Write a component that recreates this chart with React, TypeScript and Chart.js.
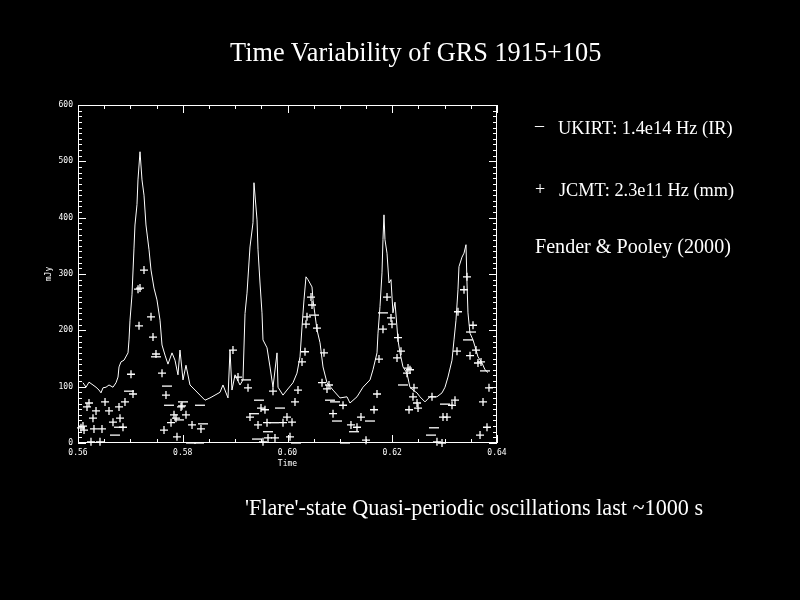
import React, { useEffect, useRef } from "react";
import { Chart, registerables } from "chart.js";

Chart.register(...registerables);

// UKIRT (IR) light curve
const ukirtTime = [
  0.56095, 0.56153, 0.5621, 0.56286, 0.56344, 0.56401, 0.56439, 0.56477, 0.56535, 0.56592,
  0.56668, 0.56726, 0.56764, 0.56783, 0.56821, 0.56878, 0.56955, 0.56974, 0.56993, 0.57031,
  0.57069, 0.57088, 0.57126, 0.57145, 0.57184, 0.57222, 0.5726, 0.57298, 0.57356, 0.57394,
  0.57451, 0.57508, 0.57566, 0.57604, 0.57661, 0.57718, 0.57795, 0.57852, 0.57909, 0.57947,
  0.58005, 0.58062, 0.58138, 0.58234, 0.58329, 0.58425, 0.5852, 0.58616, 0.58711, 0.58768,
  0.58864, 0.58902, 0.5894, 0.58998, 0.59093, 0.5915, 0.59189, 0.59227, 0.59284, 0.59341,
  0.5936, 0.59418, 0.59437, 0.59475, 0.59513, 0.59532, 0.59609, 0.59666, 0.59723, 0.598,
  0.59819, 0.59914, 0.5999, 0.60105, 0.60181, 0.60239, 0.60277, 0.60315, 0.60353, 0.60391,
  0.60468, 0.60487, 0.60563, 0.60621, 0.60678, 0.60754, 0.60869, 0.61002, 0.61136, 0.61193,
  0.61327, 0.61441, 0.61575, 0.61632, 0.61709, 0.61728, 0.61766, 0.61804, 0.61823, 0.61842,
  0.61861, 0.619, 0.61938, 0.61976, 0.62014, 0.62052, 0.6209, 0.62109, 0.62148, 0.62205,
  0.62281, 0.62338, 0.62396, 0.62472, 0.62529, 0.62625, 0.6272, 0.62854, 0.6295, 0.63007,
  0.63064, 0.63141, 0.63179, 0.63217, 0.63255, 0.63274, 0.63332, 0.6337, 0.63408, 0.63427,
  0.63446, 0.63484, 0.63542, 0.6358, 0.63637, 0.63714, 0.63771, 0.63828,
];
const ukirtFlux = [
  107, 99, 108, 103, 99, 94, 89, 98, 99, 103,
  99, 107, 117, 135, 144, 147, 160, 183, 218, 263,
  346, 387, 423, 467, 517, 467, 440, 387, 343, 307,
  275, 254, 218, 174, 156, 140, 160, 147, 121, 165,
  112, 138, 103, 94, 85, 76, 80, 85, 90, 103,
  80, 165, 94, 121, 103, 112, 230, 266, 348, 391,
  462, 396, 343, 284, 231, 183, 169, 135, 99, 160,
  99, 85, 94, 107, 124, 153, 206, 254, 295, 290,
  277, 254, 201, 178, 135, 107, 94, 80, 82, 71,
  82, 99, 112, 130, 160, 195, 242, 302, 361, 405,
  361, 337, 284, 290, 231, 250, 206, 183, 160, 135,
  124, 99, 94, 89, 82, 73, 82, 82, 89, 99,
  117, 147, 183, 218, 272, 313, 330, 337, 352, 284,
  231, 195, 183, 171, 153, 142, 130, 125,
];

// JCMT (mm) points, "+" markers
const jcmtTime = [
  0.5726, 0.57184, 0.57146, 0.57165, 0.57394, 0.57432, 0.57489, 0.57604, 0.57012, 0.5705,
  0.5768, 0.5621, 0.56172, 0.56516, 0.56344, 0.56592, 0.56783, 0.56897, 0.56286, 0.56668,
  0.56802, 0.56859, 0.56095, 0.56057, 0.56115, 0.56305, 0.56458, 0.56248, 0.5642, 0.57871,
  0.57776, 0.57833, 0.58062, 0.57967, 0.58177, 0.58348, 0.57642, 0.5789, 0.58959, 0.59055,
  0.59246, 0.59723, 0.602, 0.60143, 0.59494, 0.5957, 0.59284, 0.59437, 0.59609, 0.5999,
  0.60086, 0.59914, 0.57986, 0.59532, 0.59628, 0.59761, 0.60048, 0.60334, 0.60277, 0.60353,
  0.60372, 0.60468, 0.60449, 0.60563, 0.60697, 0.60659, 0.60754, 0.60792, 0.60869, 0.619,
  0.61976, 0.61995, 0.61823, 0.6211, 0.62167, 0.62091, 0.61747, 0.62301, 0.62339, 0.62282,
  0.62415, 0.62396, 0.62473, 0.62492, 0.6232, 0.61709, 0.61652, 0.61403, 0.61212, 0.61327,
  0.6106, 0.61499, 0.6337, 0.63255, 0.63427, 0.63542, 0.63485, 0.63236, 0.63599, 0.63637,
  0.63695, 0.62759, 0.63141, 0.63198, 0.62969, 0.63045, 0.62854, 0.6295, 0.63676, 0.63809,
  0.63847, 0.63733,
];
const jcmtFlux = [
  307, 275, 273, 208, 224, 188, 158, 124, 122, 87,
  85, 71, 64, 73, 57, 57, 64, 73, 44, 37,
  44, 28, 30, 27, 23, 25, 25, 2, 2, 44,
  36, 50, 50, 64, 32, 25, 23, 11, 165, 117,
  98, 92, 94, 73, 62, 59, 46, 32, 36, 46,
  37, 36, 66, 2, 9, 9, 11, 162, 144, 211,
  224, 245, 259, 204, 160, 107, 96, 103, 52, 259,
  222, 211, 202, 187, 163, 151, 149, 133, 130, 124,
  98, 82, 71, 62, 59, 87, 59, 46, 32, 28,
  67, 5, 272, 233, 295, 209, 155, 163, 165, 142,
  144, 82, 67, 76, 46, 46, 2, 0, 14, 28,
  98, 73,
];

// JCMT points drawn as horizontal dashes
const dashTime = [
  0.56974, 0.57489, 0.57699, 0.57737, 0.58005, 0.57928, 0.56783, 0.56706, 0.58387, 0.58158,
  0.5831, 0.58329, 0.59456, 0.59857, 0.5936, 0.59742, 0.59628, 0.60162, 0.59418, 0.59208,
  0.60506, 0.60811, 0.60945, 0.60907, 0.61575, 0.6127, 0.61098, 0.61823, 0.62205, 0.63007,
  0.63446, 0.63504, 0.63771, 0.62797, 0.6274,
];
const dashFlux = [
  92, 153, 101, 67, 73, 41, 28, 14, 34, 0,
  0, 67, 76, 62, 52, 36, 20, 0, 7, 112,
  227, 76, 39, 73, 39, 20, 0, 231, 103, 69,
  183, 197, 128, 27, 14,
];

const xMajor = [0.56, 0.58, 0.6, 0.62, 0.64];
const yMajor = [0, 100, 200, 300, 400, 500, 600];

const titleText = "Time Variability of GRS 1915+105";
const legendUkirt = "UKIRT: 1.4e14 Hz (IR)";
const legendJcmt = "JCMT: 2.3e11 Hz (mm)";
const creditText = "Fender & Pooley (2000)";
const captionText = "'Flare'-state Quasi-periodic oscillations last ~1000 s";

const boxTicks = {
  id: "boxTicks",
  afterDatasetsDraw(chart: any) {
    const { ctx, chartArea } = chart;
    const xs = chart.scales.x;
    const ys = chart.scales.y;
    const { left, right, top, bottom } = chartArea;
    ctx.save();
    ctx.strokeStyle = "#ffffff";
    ctx.lineWidth = 1;
    ctx.strokeRect(left + 0.5, top + 0.5, right - left - 1, bottom - top - 1);
    ctx.beginPath();
    for (let i = 0; i <= 16; i++) {
      const v = 0.56 + i * 0.005;
      const px = Math.round(xs.getPixelForValue(v)) + 0.5;
      const len = i % 4 === 0 ? 8 : 4;
      ctx.moveTo(px, bottom);
      ctx.lineTo(px, bottom - len);
      ctx.moveTo(px, top);
      ctx.lineTo(px, top + len);
    }
    for (let i = 0; i <= 60; i++) {
      const v = i * 10;
      const py = Math.round(ys.getPixelForValue(v)) + 0.5;
      const len = i % 10 === 0 ? 8 : 4;
      ctx.moveTo(left, py);
      ctx.lineTo(left + len, py);
      ctx.moveTo(right, py);
      ctx.lineTo(right - len, py);
    }
    ctx.stroke();
    ctx.restore();
  },
};

export default function App() {
  const canvasRef = useRef<HTMLCanvasElement | null>(null);

  useEffect(() => {
    document.body.style.margin = "0";
    document.body.style.background = "#000";
    const canvas = canvasRef.current;
    if (!canvas) return;
    const chart = new Chart(canvas, {
      type: "line",
      data: {
        datasets: [
          {
            label: "UKIRT",
            data: ukirtTime.map((t, i) => ({ x: t, y: ukirtFlux[i] })),
            borderColor: "#ffffff",
            borderWidth: 1,
            pointRadius: 0,
            tension: 0,
            fill: false,
          },
          {
            label: "JCMT",
            data: jcmtTime.map((t, i) => ({ x: t, y: jcmtFlux[i] })),
            showLine: false,
            pointStyle: "cross",
            pointRadius: 4,
            borderColor: "#ffffff",
            pointBorderColor: "#ffffff",
            pointBorderWidth: 1.3,
          },
          {
            label: "JCMT dash",
            data: dashTime.map((t, i) => ({ x: t, y: dashFlux[i] })),
            showLine: false,
            pointStyle: "line",
            pointRadius: 5,
            borderColor: "#ffffff",
            pointBorderColor: "#ffffff",
            pointBorderWidth: 1.3,
          },
        ],
      },
      options: {
        animation: false,
        responsive: false,
        maintainAspectRatio: false,
        clip: false as any,
        layout: { padding: { left: 44, top: 105, right: 303, bottom: 131 } },
        plugins: { legend: { display: false }, tooltip: { enabled: false } },
        scales: {
          x: {
            type: "linear",
            min: 0.56,
            max: 0.64,
            afterBuildTicks: (s: any) => {
              s.ticks = xMajor.map((v) => ({ value: v }));
            },
            afterFit: (s: any) => {
              s.height = 26;
            },
            ticks: {
              color: "#ffffff",
              font: { size: 8, family: "DejaVu Sans Mono" },
              padding: 5,
              maxRotation: 0,
              callback: (v: any) => Number(v).toFixed(2),
            },
            grid: { display: false, drawTicks: false },
            border: { display: false },
            title: {
              display: true,
              text: "Time",
              color: "#ffffff",
              font: { size: 8, family: "DejaVu Sans Mono" },
              padding: 0,
            },
          },
          y: {
            type: "linear",
            min: 0,
            max: 600,
            afterBuildTicks: (s: any) => {
              s.ticks = yMajor.map((v) => ({ value: v }));
            },
            afterFit: (s: any) => {
              s.width = 34;
            },
            ticks: {
              color: "#ffffff",
              font: { size: 8, family: "DejaVu Sans Mono" },
              padding: 5,
            },
            grid: { display: false, drawTicks: false },
            border: { display: false },
            title: {
              display: true,
              text: "mJy",
              color: "#ffffff",
              font: { size: 8, family: "DejaVu Sans Mono" },
              padding: 0,
            },
          },
        },
      },
      plugins: [boxTicks],
    });
    return () => chart.destroy();
  }, []);

  const serif = "'Liberation Serif', 'Times New Roman', serif";
  const textBase: React.CSSProperties = {
    position: "absolute",
    color: "#ffffff",
    fontFamily: serif,
    whiteSpace: "nowrap",
    lineHeight: 1,
  };

  return (
    <div
      style={{
        position: "fixed",
        left: 0,
        top: 0,
        width: 800,
        height: 600,
        background: "#000000",
        overflow: "hidden",
      }}
    >
      <canvas ref={canvasRef} width={800} height={600} style={{ position: "absolute", left: 0, top: 0, width: 800, height: 600 }} />
      <div style={{ ...textBase, left: 230, top: 40, fontSize: 26.3 }}>{titleText}</div>
      <div style={{ ...textBase, left: 535, top: 116, fontSize: 18 }}>{"\u2013"}</div>
      <div style={{ ...textBase, left: 558, top: 119, fontSize: 18.4 }}>{legendUkirt}</div>
      <div style={{ ...textBase, left: 535, top: 180, fontSize: 18 }}>+</div>
      <div style={{ ...textBase, left: 559, top: 181, fontSize: 18.3 }}>{legendJcmt}</div>
      <div style={{ ...textBase, left: 535, top: 236, fontSize: 20.1 }}>{creditText}</div>
      <div style={{ ...textBase, left: 245, top: 497, fontSize: 22.2 }}>{captionText}</div>
    </div>
  );
}
